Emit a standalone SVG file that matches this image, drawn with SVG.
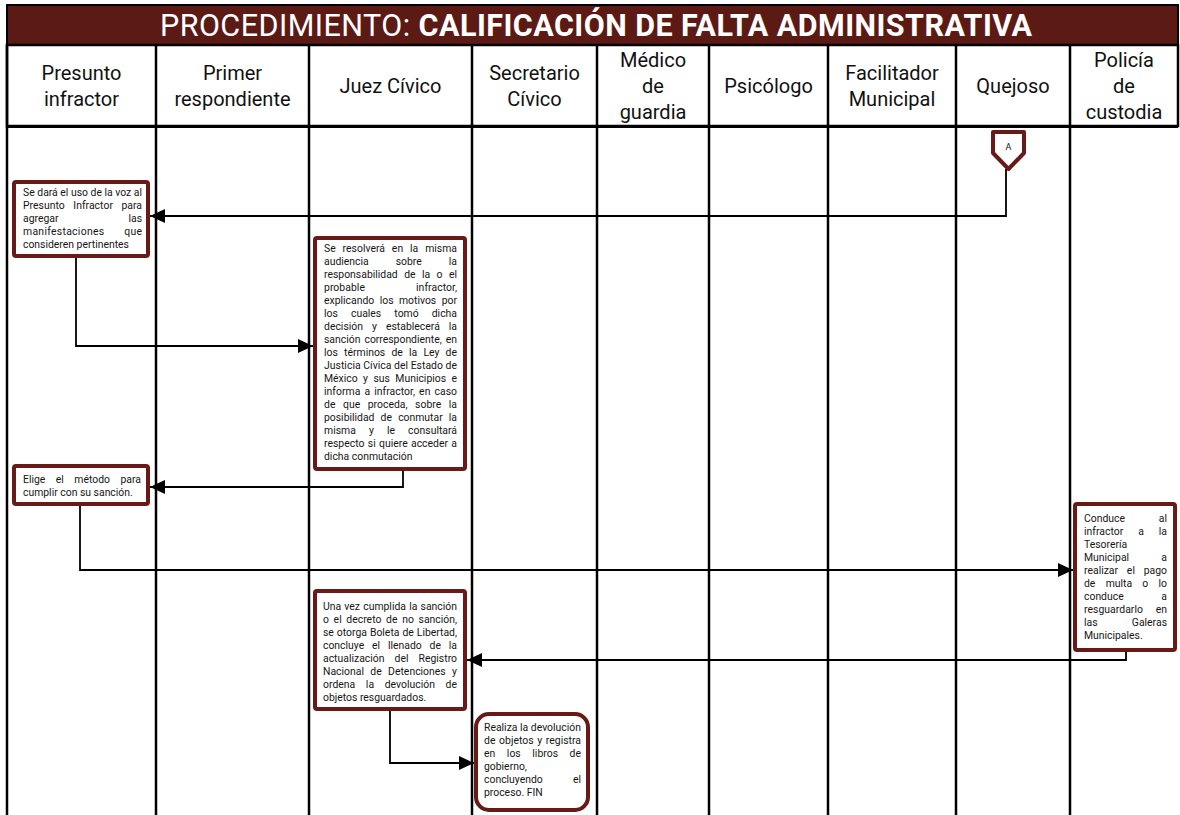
<svg xmlns="http://www.w3.org/2000/svg" width="1180" height="815" viewBox="0 0 1180 815">
<style>
.lane{stroke:#000;stroke-width:2.5;fill:none}
.box{fill:#fff;stroke:#6a1a16;stroke-width:4}
.t{font-family:Roboto,"Liberation Sans",sans-serif;font-size:10.4px;fill:#161616}
.h{font-family:Roboto,"Liberation Sans",sans-serif;font-size:20px;fill:#111;text-anchor:middle}
.c{fill:none;stroke:#000;stroke-width:1.8}
</style>
<defs>
<marker id="ah" markerUnits="userSpaceOnUse" markerWidth="15" markerHeight="14" viewBox="0 0 15 14" refX="15" refY="7" orient="auto">
<path d="M0,0 L15,7 L0,14 z" fill="#000"/>
</marker>
</defs>
<rect width="1180" height="815" fill="#fff"/>
<g id="grid">
<rect x="7" y="5" width="1171" height="40" fill="#5c1a15" stroke="#000" stroke-width="2"/>
<text x="160" y="36" textLength="872" lengthAdjust="spacing" font-family="Roboto, 'Liberation Sans', sans-serif" font-size="30.5" fill="#fff">PROCEDIMIENTO: <tspan font-weight="bold">CALIFICACIÓN DE FALTA ADMINISTRATIVA</tspan></text>
<rect x="7" y="45" width="1171" height="81" fill="#fff" class="lane"/>
<line class="lane" x1="7" y1="45" x2="7" y2="815"/>
<line class="lane" x1="156" y1="45" x2="156" y2="815"/>
<line class="lane" x1="309" y1="45" x2="309" y2="815"/>
<line class="lane" x1="472" y1="45" x2="472" y2="815"/>
<line class="lane" x1="597" y1="45" x2="597" y2="815"/>
<line class="lane" x1="709" y1="45" x2="709" y2="815"/>
<line class="lane" x1="828" y1="45" x2="828" y2="815"/>
<line class="lane" x1="956" y1="45" x2="956" y2="815"/>
<line class="lane" x1="1070" y1="45" x2="1070" y2="815"/>
<line x1="7" y1="126.5" x2="1178" y2="126.5" stroke="#000" stroke-width="3"/>
<text class="h" x="81.5" y="80">Presunto</text>
<text class="h" x="81.5" y="106">infractor</text>
<text class="h" x="232.5" y="80">Primer</text>
<text class="h" x="232.5" y="106">respondiente</text>
<text class="h" x="390.5" y="93">Juez Cívico</text>
<text class="h" x="534.5" y="80">Secretario</text>
<text class="h" x="534.5" y="106">Cívico</text>
<text class="h" x="653" y="67">Médico</text>
<text class="h" x="653" y="93">de</text>
<text class="h" x="653" y="119">guardia</text>
<text class="h" x="768.5" y="93">Psicólogo</text>
<text class="h" x="892" y="80">Facilitador</text>
<text class="h" x="892" y="106">Municipal</text>
<text class="h" x="1013" y="93">Quejoso</text>
<text class="h" x="1124" y="67">Policía</text>
<text class="h" x="1124" y="93">de</text>
<text class="h" x="1124" y="119">custodia</text>
</g>
<g id="connectors">
<path class="c" d="M1006,169 V216 H150" marker-end="url(#ah)"/>
<path class="c" d="M76,258 V346 H313" marker-end="url(#ah)"/>
<path class="c" d="M403,471 V487 H150" marker-end="url(#ah)"/>
<path class="c" d="M80,506 V570 H1073" marker-end="url(#ah)"/>
<path class="c" d="M1126,652 V660 H467" marker-end="url(#ah)"/>
<path class="c" d="M390,711 V763 H474" marker-end="url(#ah)"/>
</g>
<g id="connector-A">
<polygon points="993,132 1024,132 1024,153 1008.5,169 993,153" fill="#fff" stroke="#6a1a16" stroke-width="4" stroke-linejoin="round"/>
<text x="1008.5" y="150" text-anchor="middle" font-family="Roboto, 'Liberation Sans', sans-serif" font-size="9" fill="#111">A</text>
</g>
<g id="n1">
<rect class="box" x="14" y="182" width="134" height="74" rx="2"/>
<text class="t" x="23" y="195.5" textLength="119" lengthAdjust="spacing">Se dará el uso de la voz al</text>
<text class="t" x="23" y="208.5" textLength="119" lengthAdjust="spacing" style="word-spacing:5.9px">Presunto Infractor para</text>
<text class="t" x="23" y="221.5" textLength="119" lengthAdjust="spacing" style="word-spacing:67.3px">agregar las</text>
<text class="t" x="23" y="234.5" textLength="119" lengthAdjust="spacing" style="word-spacing:17px">manifestaciones que</text>
<text class="t" x="23" y="247.5">consideren pertinentes</text>
</g>
<g id="n2">
<rect class="box" x="315" y="238" width="150" height="231" rx="2"/>
<text class="t" x="324" y="251.5" textLength="133" lengthAdjust="spacing" style="word-spacing:4.3px">Se resolverá en la misma</text>
<text class="t" x="324" y="264.55" textLength="133" lengthAdjust="spacing" style="word-spacing:24.4px">audiencia sobre la</text>
<text class="t" x="324" y="277.6" textLength="133" lengthAdjust="spacing" style="word-spacing:3.85px">responsabilidad de la o el</text>
<text class="t" x="324" y="290.65" textLength="133" lengthAdjust="spacing" style="word-spacing:48.4px">probable infractor,</text>
<text class="t" x="324" y="303.7" textLength="133" lengthAdjust="spacing" style="word-spacing:2.9px">explicando los motivos por</text>
<text class="t" x="324" y="316.75" textLength="133" lengthAdjust="spacing" style="word-spacing:10.5px">los cuales tomó dicha</text>
<text class="t" x="324" y="329.8" textLength="133" lengthAdjust="spacing" style="word-spacing:6.4px">decisión y establecerá la</text>
<text class="t" x="324" y="342.85" textLength="133" lengthAdjust="spacing" style="word-spacing:1.5px">sanción correspondiente, en</text>
<text class="t" x="324" y="355.9" textLength="133" lengthAdjust="spacing" style="word-spacing:3.6px">los términos de la Ley de</text>
<text class="t" x="324" y="368.95" textLength="133" lengthAdjust="spacing">Justicia Cívica del Estado de</text>
<text class="t" x="324" y="382" textLength="133" lengthAdjust="spacing" style="word-spacing:2.85px">México y sus Municipios e</text>
<text class="t" x="324" y="395.05" textLength="133" lengthAdjust="spacing" style="word-spacing:1.5px">informa a infractor, en caso</text>
<text class="t" x="324" y="408.1" textLength="133" lengthAdjust="spacing" style="word-spacing:5px">de que proceda, sobre la</text>
<text class="t" x="324" y="421.15" textLength="133" lengthAdjust="spacing" style="word-spacing:3.6px">posibilidad de conmutar la</text>
<text class="t" x="324" y="434.2" textLength="133" lengthAdjust="spacing" style="word-spacing:10.5px">misma y le consultará</text>
<text class="t" x="324" y="447.25" textLength="133" lengthAdjust="spacing" style="word-spacing:0.75px">respecto si quiere acceder a</text>
<text class="t" x="324" y="460.3">dicha conmutación</text>
</g>
<g id="n3">
<rect class="box" x="14" y="466" width="134" height="38" rx="2"/>
<text class="t" x="23" y="482.5" textLength="118" lengthAdjust="spacing" style="word-spacing:7.8px">Elige el método para</text>
<text class="t" x="23" y="495.5">cumplir con su sanción.</text>
</g>
<g id="n4">
<rect class="box" x="1075" y="504" width="100" height="146" rx="2"/>
<text class="t" x="1084" y="521.5" textLength="83" lengthAdjust="spacing" style="word-spacing:31.2px">Conduce al</text>
<text class="t" x="1084" y="534.5" textLength="83" lengthAdjust="spacing" style="word-spacing:12.3px">infractor a la</text>
<text class="t" x="1084" y="547.5">Tesorería</text>
<text class="t" x="1084" y="560.5" textLength="83" lengthAdjust="spacing" style="word-spacing:29.7px">Municipal a</text>
<text class="t" x="1084" y="573.5" textLength="83" lengthAdjust="spacing" style="word-spacing:6.2px">realizar el pago</text>
<text class="t" x="1084" y="586.5" textLength="83" lengthAdjust="spacing" style="word-spacing:7.7px">de multa o lo</text>
<text class="t" x="1084" y="599.5" textLength="83" lengthAdjust="spacing" style="word-spacing:35.1px">conduce a</text>
<text class="t" x="1084" y="612.5" textLength="83" lengthAdjust="spacing" style="word-spacing:10.1px">resguardarlo en</text>
<text class="t" x="1084" y="625.5" textLength="83" lengthAdjust="spacing" style="word-spacing:31.6px">las Galeras</text>
<text class="t" x="1084" y="638.5">Municipales.</text>
</g>
<g id="n5">
<rect class="box" x="315" y="591" width="150" height="118" rx="2"/>
<text class="t" x="323" y="609.5" textLength="134" lengthAdjust="spacing" style="word-spacing:0.6px">Una vez cumplida la sanción</text>
<text class="t" x="323" y="622.6" textLength="134" lengthAdjust="spacing" style="word-spacing:2.1px">o el decreto de no sanción,</text>
<text class="t" x="323" y="635.7" textLength="134" lengthAdjust="spacing" style="word-spacing:0.4px">se otorga Boleta de Libertad,</text>
<text class="t" x="323" y="648.8" textLength="134" lengthAdjust="spacing" style="word-spacing:5.3px">concluye el llenado de la</text>
<text class="t" x="323" y="661.9" textLength="134" lengthAdjust="spacing" style="word-spacing:7.5px">actualización del Registro</text>
<text class="t" x="323" y="675" textLength="134" lengthAdjust="spacing" style="word-spacing:3.8px">Nacional de Detenciones y</text>
<text class="t" x="323" y="688.1" textLength="134" lengthAdjust="spacing" style="word-spacing:8.1px">ordena la devolución de</text>
<text class="t" x="323" y="701.2">objetos resguardados.</text>
</g>
<g id="n6">
<rect class="box" x="476" y="714" width="112" height="96" rx="13"/>
<text class="t" x="484" y="731" textLength="97" lengthAdjust="spacing">Realiza la devolución</text>
<text class="t" x="484" y="744" textLength="97" lengthAdjust="spacing" style="word-spacing:1.1px">de objetos y registra</text>
<text class="t" x="484" y="757" textLength="97" lengthAdjust="spacing" style="word-spacing:9px">en los libros de</text>
<text class="t" x="484" y="770">gobierno,</text>
<text class="t" x="484" y="783" textLength="97" lengthAdjust="spacing" style="word-spacing:27.6px">concluyendo el</text>
<text class="t" x="484" y="796">proceso. FIN</text>
</g>
</svg>
